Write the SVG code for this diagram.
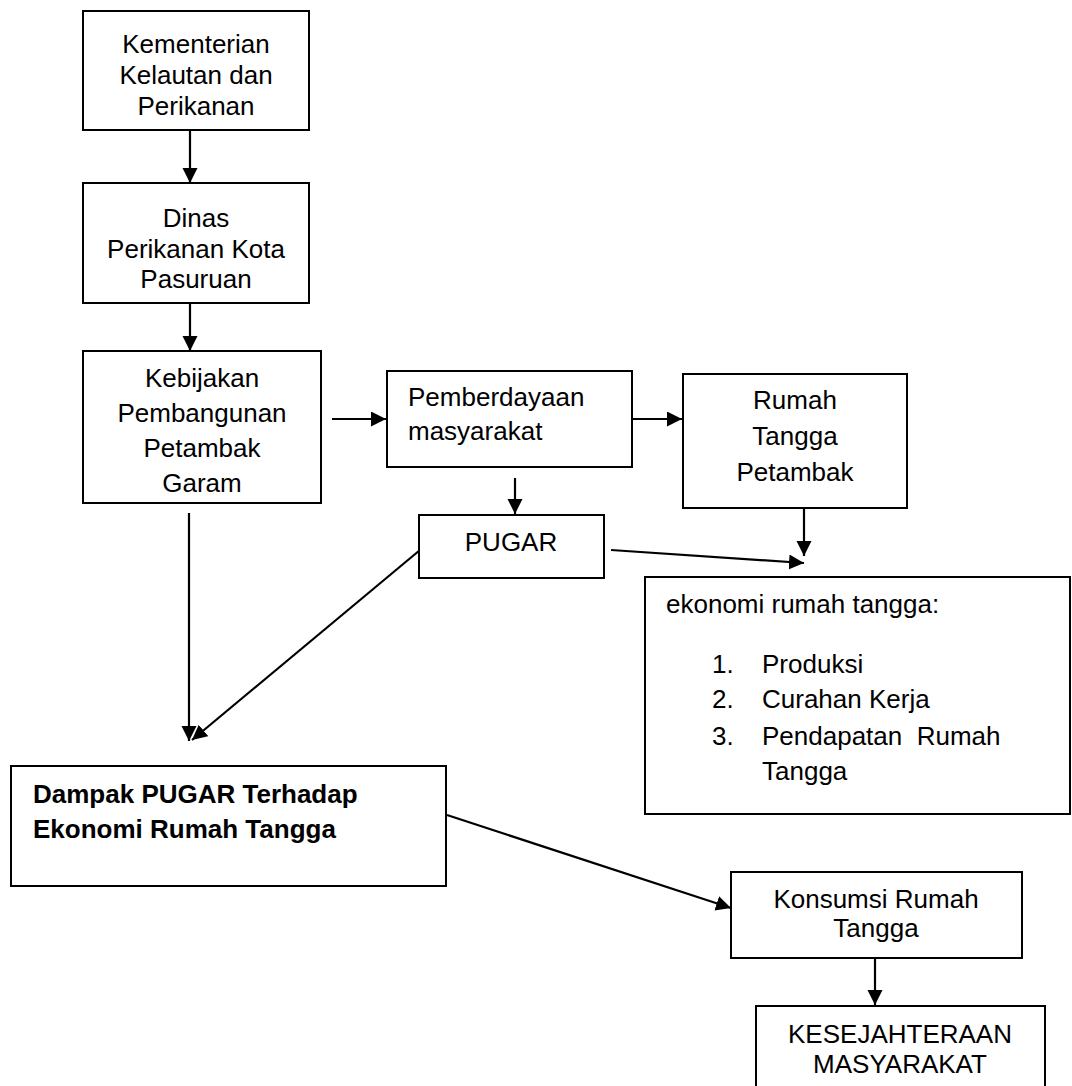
<svg xmlns="http://www.w3.org/2000/svg" width="1072" height="1086" viewBox="0 0 1072 1086">
<style>
.box{fill:#fff;stroke:#000;stroke-width:2}
.t{font-family:"Liberation Sans",Arial,sans-serif;font-size:26px;fill:#000}
.c{text-anchor:middle}
.b{font-weight:bold}
.ln{stroke:#000;stroke-width:2.2;fill:none}
.ar{stroke:#000;stroke-width:2.2;fill:none;marker-end:url(#ah)}
</style>
<defs>
<marker id="ah" markerUnits="userSpaceOnUse" markerWidth="17" markerHeight="16" refX="15" refY="7.5" orient="auto">
<path d="M0,0 L15,7.5 L0,15 z" fill="#000"/>
</marker>
</defs>
<rect width="1072" height="1086" fill="#fff"/>
<g id="connectors">
<line class="ar" x1="190" y1="130" x2="190" y2="183"/>
<line class="ar" x1="190" y1="303" x2="190" y2="351"/>
<line class="ar" x1="332" y1="419" x2="386" y2="419"/>
<line class="ar" x1="632" y1="419" x2="682" y2="419"/>
<line class="ar" x1="515" y1="478" x2="515" y2="514"/>
<line class="ar" x1="804" y1="508" x2="804" y2="556"/>
<line class="ar" x1="611" y1="550" x2="804" y2="563"/>
<line class="ar" x1="189" y1="513" x2="189" y2="741"/>
<line class="ar" x1="420" y1="550" x2="192" y2="740"/>
<line class="ar" x1="447" y1="815" x2="731" y2="908"/>
<line class="ar" x1="875" y1="958" x2="875" y2="1005"/>
</g>
<g id="n1">
<rect class="box" x="83" y="11" width="226" height="119"/>
<text class="t c" x="196" y="53">Kementerian</text>
<text class="t c" x="196" y="84">Kelautan dan</text>
<text class="t c" x="196" y="115">Perikanan</text>
</g>
<g id="n2">
<rect class="box" x="83" y="183" width="226" height="120"/>
<text class="t c" x="196" y="227">Dinas</text>
<text class="t c" x="196" y="258">Perikanan Kota</text>
<text class="t c" x="196" y="288">Pasuruan</text>
</g>
<g id="n3">
<rect class="box" x="83" y="351" width="238" height="152"/>
<text class="t c" x="202" y="387">Kebijakan</text>
<text class="t c" x="202" y="422">Pembangunan</text>
<text class="t c" x="202" y="457">Petambak</text>
<text class="t c" x="202" y="492">Garam</text>
</g>
<g id="n4">
<rect class="box" x="387" y="371" width="245" height="96"/>
<text class="t" x="408" y="406">Pemberdayaan</text>
<text class="t" x="408" y="440">masyarakat</text>
</g>
<g id="n5">
<rect class="box" x="683" y="374" width="224" height="134"/>
<text class="t c" x="795" y="409">Rumah</text>
<text class="t c" x="795" y="445">Tangga</text>
<text class="t c" x="795" y="481">Petambak</text>
</g>
<g id="n6">
<rect class="box" x="419" y="515" width="185" height="63"/>
<text class="t c" x="511" y="551">PUGAR</text>
</g>
<g id="n7">
<rect class="box" x="645" y="577" width="425" height="237"/>
<text class="t" x="666" y="613">ekonomi rumah tangga:</text>
<text class="t" x="712" y="673">1.</text>
<text class="t" x="762" y="673">Produksi</text>
<text class="t" x="712" y="708">2.</text>
<text class="t" x="762" y="708">Curahan Kerja</text>
<text class="t" x="712" y="745">3.</text>
<text class="t" x="762" y="745" xml:space="preserve">Pendapatan  Rumah</text>
<text class="t" x="762" y="780">Tangga</text>
</g>
<g id="n8">
<rect class="box" x="11" y="766" width="435" height="120"/>
<text class="t b" x="33" y="803">Dampak PUGAR Terhadap</text>
<text class="t b" x="33" y="838">Ekonomi Rumah Tangga</text>
</g>
<g id="n9">
<rect class="box" x="731" y="872" width="291" height="86"/>
<text class="t c" x="876" y="908">Konsumsi Rumah</text>
<text class="t c" x="876" y="937">Tangga</text>
</g>
<g id="n10">
<rect class="box" x="756" y="1006" width="289" height="100"/>
<text class="t c" x="900" y="1043">KESEJAHTERAAN</text>
<text class="t c" x="900" y="1073">MASYARAKAT</text>
</g>
</svg>
